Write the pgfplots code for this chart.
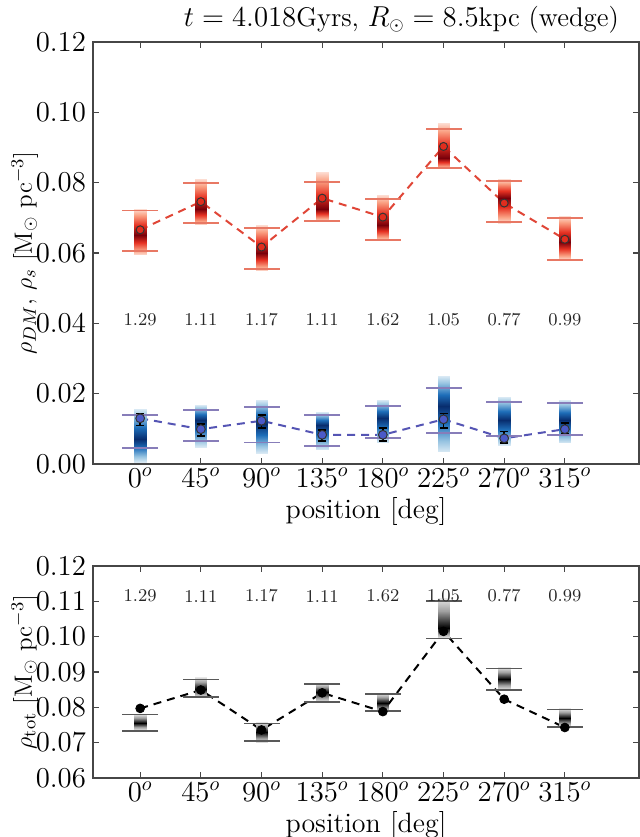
\documentclass[border=0pt]{standalone}
\usepackage{pgfplots}
\pgfplotsset{compat=1.18}
\usepackage{pgfplotstable}
\usepgfplotslibrary{patchplots}

\definecolor{capred}{RGB}{232,120,100}
\definecolor{linered}{RGB}{224,70,55}
\definecolor{markred}{RGB}{225,45,30}
\definecolor{capblue}{RGB}{135,125,185}
\definecolor{lineblue}{RGB}{85,85,180}
\definecolor{markblue}{RGB}{75,90,200}
\definecolor{spine}{RGB}{70,70,70}

\pgfplotsset{
  colormap={redband}{rgb255=(255,255,255) rgb255=(250,160,130) rgb255=(230,50,35) rgb255=(120,0,10)},
  colormap={blueband}{rgb255=(255,255,255) rgb255=(150,195,225) rgb255=(30,110,185) rgb255=(8,45,110)},
  colormap={grayband}{rgb255=(255,255,255) rgb255=(160,160,160) rgb255=(0,0,0)},
}

% dark matter density: value, caps of the interval, shaded band (low, peak, high)
\pgfplotstableread{
pos val clo chi blo bmid bhi
0   0.0666 0.0606 0.0721 0.0595 0.0650 0.0725
45  0.0746 0.0685 0.0800 0.0680 0.0725 0.0810
90  0.0617 0.0554 0.0671 0.0550 0.0600 0.0680
135 0.0756 0.0691 0.0803 0.0690 0.0725 0.0830
180 0.0702 0.0637 0.0753 0.0635 0.0680 0.0765
225 0.0903 0.0841 0.0952 0.0840 0.0870 0.0970
270 0.0742 0.0689 0.0805 0.0685 0.0755 0.0810
315 0.0639 0.0580 0.0699 0.0580 0.0630 0.0705
}\dmtab

% stellar density
\pgfplotstableread{
pos val ep em clo chi blo bmid bhi
0   0.0130 0.0014 0.0021 0.0045 0.0139 0.0005 0.0070 0.0155
45  0.0099 0.0014 0.0019 0.0065 0.0154 0.0048 0.0125 0.0168
90  0.0123 0.0016 0.0020 0.0061 0.0163 0.0031 0.0115 0.0182
135 0.0083 0.0014 0.0018 0.0051 0.0139 0.0040 0.0112 0.0148
180 0.0083 0.0019 0.0018 0.0073 0.0165 0.0060 0.0130 0.0182
225 0.0127 0.0017 0.0024 0.0089 0.0215 0.0035 0.0165 0.0250
270 0.0073 0.0019 0.0014 0.0080 0.0177 0.0054 0.0125 0.0190
315 0.0099 0.0017 0.0014 0.0083 0.0174 0.0060 0.0125 0.0182
}\sttab

% total density
\pgfplotstableread{
pos val clo chi blo bmid bhi
0   0.0797 0.0733 0.0780 0.0735 0.0757 0.0780
45  0.0849 0.0830 0.0879 0.0830 0.0853 0.0885
90  0.0736 0.0704 0.0754 0.0700 0.0731 0.0758
135 0.0841 0.0816 0.0865 0.0815 0.0844 0.0868
180 0.0788 0.0790 0.0837 0.0788 0.0811 0.0840
225 0.1015 0.0995 0.1102 0.0995 0.1025 0.1110
270 0.0823 0.0849 0.0910 0.0848 0.0880 0.0915
315 0.0743 0.0745 0.0794 0.0743 0.0769 0.0797
}\tottab

% ratios printed above each position
\pgfplotstableread{
pos lab
0   1.29
45  1.11
90  1.17
135 1.11
180 1.62
225 1.05
270 0.77
315 0.99
}\ratiotab

% vertical shaded band for each row of a table: light at the ends, dark at the peak
\newcommand\drawbands[2]{%
  \pgfplotsinvokeforeach{0,...,7}{%
    \pgfplotstablegetelem{##1}{pos}\of#1%
    \pgfmathsetmacro\xa{\pgfplotsretval-4.4}%
    \pgfmathsetmacro\xb{\pgfplotsretval+4.4}%
    \pgfplotstablegetelem{##1}{blo}\of#1\let\ylo\pgfplotsretval
    \pgfplotstablegetelem{##1}{bmid}\of#1\let\ymid\pgfplotsretval
    \pgfplotstablegetelem{##1}{bhi}\of#1\let\yhi\pgfplotsretval
    \edef\tmp{\noexpand\addplot[patch, shader=interp, colormap name=#2,
      point meta=explicit, point meta min=0, point meta max=1, forget plot]
      coordinates {
        (\xa,\ylo) [0.12] (\xb,\ylo) [0.12] (\xb,\ymid) [1]
        (\xa,\ylo) [0.12] (\xb,\ymid) [1] (\xa,\ymid) [1]
        (\xa,\ymid) [1] (\xb,\ymid) [1] (\xb,\yhi) [0.12]
        (\xa,\ymid) [1] (\xb,\yhi) [0.12] (\xa,\yhi) [0.12]
      };}\tmp
  }%
}

\pgfplotsset{
  panel/.style={
    scale only axis, width=273pt, anchor=south west,
    xmin=-35, xmax=370,
    xtick={0,45,90,135,180,225,270,315},
    xticklabels={$0^o$,$45^o$,$90^o$,$135^o$,$180^o$,$225^o$,$270^o$,$315^o$},
    tick align=inside, major tick length=3pt,
    axis line style={line width=0.9pt, spine},
    tick style={line width=0.6pt, spine},
    font=\fontsize{14}{16}\selectfont,
    xticklabel style={yshift=1.5pt},
    yticklabel style={/pgf/number format/.cd, fixed, fixed zerofill, precision=2},
    xlabel={position [deg]},
    ylabel style={font=\fontsize{12.5}{14}\selectfont},
    clip=false,
  },
  ratios/.style={only marks, mark=none, forget plot,
    point meta=explicit symbolic,
    nodes near coords={\pgfplotspointmeta},
    every node near coord/.append style={anchor=center, font=\fontsize{9}{10}\selectfont, black!85}},
}

\begin{document}
\begin{tikzpicture}
\path[use as bounding box] (0,0) rectangle (320pt,418.5pt);

% upper panel: dark matter and stars
\begin{axis}[panel, at={(46.5pt,186.5pt)}, height=211pt,
    ymin=0, ymax=0.12, ytick={0,0.02,...,0.12},
    title={$t = 4.018$Gyrs, $R_\odot = 8.5$kpc (wedge)},
    title style={at={(axis description cs:0.565,1)}, anchor=base, yshift=2pt,
      font=\fontsize{13.5}{15}\selectfont},
    ylabel={$\rho_{DM}$, $\rho_s$ [M$_\odot$ pc$^{-3}$]},
    ylabel style={at={(axis description cs:-0.125,0.5)}, anchor=center},
    xlabel style={at={(axis description cs:0.5,-0.112)}, anchor=center},
  ]
  \addplot[forget plot, linered, dashed, line width=1pt, dash pattern=on 4pt off 3pt] table[x=pos,y=val]{\dmtab};
  \addplot[forget plot, lineblue, dashed, line width=1pt, dash pattern=on 4pt off 3pt] table[x=pos,y=val]{\sttab};
  \drawbands{\dmtab}{redband}
  \drawbands{\sttab}{blueband}
  \addplot[forget plot, only marks, mark=-, mark size=9pt, mark options={line width=0.9pt, capred}] table[x=pos,y=clo]{\dmtab};
  \addplot[forget plot, only marks, mark=-, mark size=9pt, mark options={line width=0.9pt, capred}] table[x=pos,y=chi]{\dmtab};
  \addplot[forget plot, only marks, mark=-, mark size=9pt, mark options={line width=0.9pt, capblue}] table[x=pos,y=clo]{\sttab};
  \addplot[forget plot, only marks, mark=-, mark size=9pt, mark options={line width=0.9pt, capblue}] table[x=pos,y=chi]{\sttab};
  \addplot[forget plot, only marks, mark=*, mark size=2pt, mark options={fill=markred, draw=black!80, line width=0.5pt}] table[x=pos,y=val]{\dmtab};
  \addplot[forget plot, only marks, mark=*, mark size=2.2pt, mark options={fill=markblue, draw=black!80, line width=0.5pt},
    error bars/.cd, y dir=both, y explicit,
    error bar style={black, line width=0.8pt},
    error mark options={rotate=90, mark size=2pt, line width=0.8pt, black}]
    table[x=pos, y=val, y error plus=ep, y error minus=em]{\sttab};
  \addplot[ratios] table[x=pos, y expr=0.041, meta=lab]{\ratiotab};
\end{axis}

% lower panel: total density
\begin{axis}[panel, at={(46.5pt,29.5pt)}, height=106pt,
    ymin=0.06, ymax=0.12, ytick={0.06,0.07,...,0.12},
    ylabel={$\rho_{\rm tot}$ [M$_\odot$ pc$^{-3}$]},
    ylabel style={at={(axis description cs:-0.125,0.5)}, anchor=center},
    xlabel style={at={(axis description cs:0.5,-0.225)}, anchor=center},
  ]
  \addplot[forget plot, black, dashed, line width=1pt, dash pattern=on 4pt off 3pt] table[x=pos,y=val]{\tottab};
  \drawbands{\tottab}{grayband}
  \addplot[forget plot, only marks, mark=-, mark size=9pt, mark options={line width=0.9pt, black!65}] table[x=pos,y=clo]{\tottab};
  \addplot[forget plot, only marks, mark=-, mark size=9pt, mark options={line width=0.9pt, black!65}] table[x=pos,y=chi]{\tottab};
  \addplot[forget plot, only marks, mark=*, mark size=2.2pt, mark options={fill=black, draw=black}] table[x=pos,y=val]{\tottab};
  \addplot[ratios] table[x=pos, y expr=0.1115, meta=lab]{\ratiotab};
\end{axis}
\end{tikzpicture}
\end{document}
